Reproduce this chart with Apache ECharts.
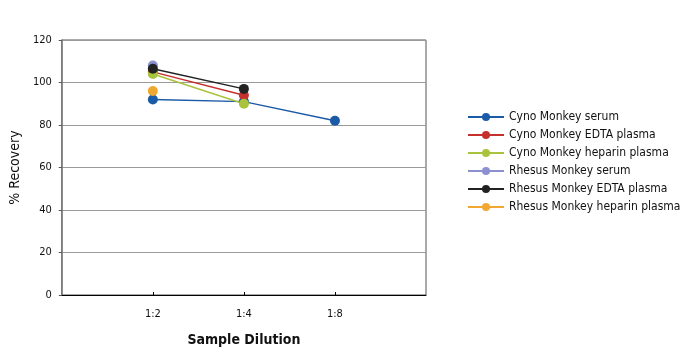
<!DOCTYPE html>
<html><head><meta charset="utf-8">
<script src="https://cdn.jsdelivr.net/npm/echarts@6/dist/echarts.min.js"></script>
<style>html,body{margin:0;padding:0;background:#fff}#c{width:694px;height:355px}</style>
</head><body><div id="c"></div>
<script>
const dilutions = ['', '1:2', '1:4', '1:8', ''];
const yTicks = [0, 20, 40, 60, 80, 100, 120];
const seriesNames = ['Cyno Monkey serum', 'Cyno Monkey EDTA plasma', 'Cyno Monkey heparin plasma', 'Rhesus Monkey serum', 'Rhesus Monkey EDTA plasma', 'Rhesus Monkey heparin plasma'];
const cynoSerum = [null, 92, 91, 82, null];
const cynoEdta = [null, 105, 94, null, null];
const cynoHeparin = [null, 104, 90, null, null];
const rhesusSerum = [null, 108, null, null, null];
const rhesusEdta = [null, 106.5, 97, null, null];
const rhesusHeparin = [null, 96, null, null, null];
const colors = ['#1a5aa6', '#c4302b', '#a9c43c', '#8c8fd0', '#222222', '#f0a833'];
const allData = [cynoSerum, cynoEdta, cynoHeparin, rhesusSerum, rhesusEdta, rhesusHeparin];
const font = '"DejaVu Sans Condensed", "Liberation Sans Narrow", sans-serif';
const chart = echarts.init(document.getElementById('c'));
chart.setOption({
  animation: false,
  textStyle: { fontFamily: font },
  grid: { left: 61, right: 268, top: 40, bottom: 60, show: true, borderColor: '#555', borderWidth: 1 },
  legend: {
    orient: 'vertical', left: 462, top: 106, itemWidth: 36, itemHeight: 10, itemGap: 6,
    textStyle: { fontFamily: font, fontSize: 12, color: '#111' },
    data: seriesNames
  },
  xAxis: {
    type: 'category', data: dilutions, boundaryGap: false,
    name: 'Sample Dilution', nameLocation: 'middle', nameGap: 38,
    nameTextStyle: { fontFamily: font, fontSize: 14, fontWeight: 'bold', color: '#111' },
    axisLine: { lineStyle: { color: '#000', width: 1 } },
    axisTick: { length: 3, inside: true, interval: (i, v) => v !== '', lineStyle: { color: '#000' } },
    axisLabel: { fontFamily: font, fontSize: 11, color: '#111', margin: 14, interval: 0 },
    splitLine: { show: false }
  },
  yAxis: {
    type: 'value', min: 0, max: 120, interval: 20,
    name: '% Recovery', nameLocation: 'middle', nameGap: 38,
    nameTextStyle: { fontFamily: font, fontSize: 14, color: '#111' },
    axisLine: { show: true, lineStyle: { color: '#777', width: 1.5 } },
    axisTick: { show: true, length: 3, lineStyle: { color: '#555' } },
    axisLabel: { fontFamily: font, fontSize: 11, color: '#111', margin: 10,
      formatter: v => yTicks.includes(v) ? String(v) : '' },
    splitLine: { lineStyle: { color: '#9a9a9a', width: 1 } }
  },
  series: seriesNames.map((n, i) => ({
    name: n, type: 'line', data: allData[i], symbol: 'circle', symbolSize: 10,
    color: colors[i], lineStyle: { width: 1.5, color: colors[i] }, itemStyle: { color: colors[i] },
    connectNulls: false
  }))
});
</script></body></html>
